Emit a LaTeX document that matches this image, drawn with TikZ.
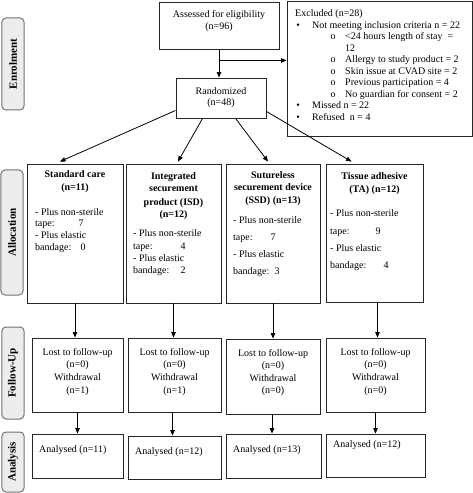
\documentclass[tikz,border=0pt]{standalone}
\usepackage{fontspec}
\setmainfont{Liberation Serif}
\usetikzlibrary{arrows.meta,calc}
\begin{document}
\begin{tikzpicture}[x=1bp,y=-1bp,
  box/.style={draw=black!85, line width=0.9bp, inner sep=0, fill=white},
  txt/.style={inner sep=0, font=\fontsize{10bp}{12bp}\selectfont},
  bt/.style={inner sep=0, font=\fontsize{10bp}{12bp}\selectfont\bfseries},
  side/.style={draw=black!55, fill=black!7, rounded corners=4bp, line width=1bp, inner sep=0},
  sidetxt/.style={inner sep=0, rotate=90, font=\fontsize{11bp}{13bp}\selectfont\bfseries},
  arr/.style={-{Triangle[length=5.5bp,width=4.5bp]}, line width=0.8bp, draw=black}]
\useasboundingbox (0,0) rectangle (473,493);

% side labels
\node[side, minimum width=22bp, minimum height=92bp] (senr) at (13,64) {};
\node[sidetxt] (senrt) at (senr.center) {Enrolment};
\node[side, minimum width=22bp, minimum height=125bp] (sall) at (12,232.5) {};
\node[sidetxt] (sallt) at (sall.center) {Allocation};
\node[side, minimum width=22bp, minimum height=92bp] (sfol) at (13,373) {};
\node[sidetxt] (sfolt) at (sfol.center) {Follow-Up};
\node[side, minimum width=22bp, minimum height=60bp] (sana) at (13,462) {};
\node[sidetxt] (sanat) at (sana.center) {Analysis};

% enrolment
\node[box, minimum width=120bp, minimum height=47bp] (assess) at (219,25.5) {};
\node[txt, anchor=base] (assess1) at (219,18) {Assessed for eligibility};
\node[txt, anchor=base] (assess2) at (219,30) {(n=96)};

\node[box, minimum width=185bp, minimum height=135bp] (excl) at (379.5,68.5) {};
\node[txt, anchor=base west] (ex0) at (295,17) {Excluded (n=28)};
\node[txt, anchor=base] (exb1) at (298,28.5) {•};
\node[txt, anchor=base west] (ex1) at (312,28.5) {Not meeting inclusion criteria n = 22};
\node[txt, anchor=base] (exo1) at (333,40) {o};
\node[txt, anchor=base west] (ex2) at (345,40) {<24 hours length of stay \ =};
\node[txt, anchor=base west] (ex3) at (345,51.5) {12};
\node[txt, anchor=base] (exo2) at (333,63) {o};
\node[txt, anchor=base west] (ex4) at (345,63) {Allergy to study product = 2};
\node[txt, anchor=base] (exo3) at (333,74.5) {o};
\node[txt, anchor=base west] (ex5) at (345,74.5) {Skin issue at CVAD site = 2};
\node[txt, anchor=base] (exo4) at (333,86) {o};
\node[txt, anchor=base west] (ex6) at (345,86) {Previous participation = 4};
\node[txt, anchor=base] (exo5) at (333,97.5) {o};
\node[txt, anchor=base west] (ex7) at (345,97.5) {No guardian for consent = 2};
\node[txt, anchor=base] (exb2) at (298,109) {•};
\node[txt, anchor=base west] (ex8) at (312,109) {Missed n = 22};
\node[txt, anchor=base] (exb3) at (298,120.5) {•};
\node[txt, anchor=base west] (ex9) at (312,120.5) {Refused \ n = 4};

\node[box, minimum width=90bp, minimum height=40bp] (rand) at (221,98) {};
\node[txt, anchor=base] (rand1) at (221,95) {Randomized};
\node[txt, anchor=base] (rand2) at (221,106) {(n=48)};

% allocation
\node[box, minimum width=96bp, minimum height=139bp] (al1) at (75,233.5) {};
\node[bt, anchor=base] (al1a) at (75,178) {Standard care};
\node[bt, anchor=base] (al1b) at (75,191) {(n=11)};
\node[txt, anchor=base west] (al1c) at (35,215) {- Plus non-sterile};
\node[txt, anchor=base west] (al1d) at (35,226) {\makebox[43.5bp][l]{tape:}7};
\node[txt, anchor=base west] (al1e) at (35,238) {- Plus elastic};
\node[txt, anchor=base west] (al1f) at (35,250) {\makebox[45.5bp][l]{bandage:}0};

\node[box, minimum width=95bp, minimum height=139bp] (al2) at (173.5,233.5) {};
\node[bt, anchor=base] (al2a) at (173.5,180) {Integrated};
\node[bt, anchor=base] (al2b) at (173.5,192) {securement};
\node[bt, anchor=base] (al2c) at (173.5,205) {product (ISD)};
\node[bt, anchor=base] (al2d) at (173.5,217) {(n=12)};
\node[txt, anchor=base west] (al2e) at (133,236) {- Plus non-sterile};
\node[txt, anchor=base west] (al2f) at (133,249) {\makebox[47.5bp][l]{tape:}4};
\node[txt, anchor=base west] (al2g) at (133,261) {- Plus elastic};
\node[txt, anchor=base west] (al2h) at (133,273) {\makebox[47.5bp][l]{bandage:}2};

\node[box, minimum width=94bp, minimum height=139bp] (al3) at (273,233.5) {};
\node[bt, anchor=base] (al3a) at (273,179) {Sutureless};
\node[bt, anchor=base] (al3b) at (273,191) {securement device};
\node[bt, anchor=base] (al3c) at (273,203) {(SSD) (n=13)};
\node[txt, anchor=base west] (al3d) at (233,223) {- Plus non-sterile};
\node[txt, anchor=base west] (al3e) at (233,240) {\makebox[37.5bp][l]{tape:}7};
\node[txt, anchor=base west] (al3f) at (233,257) {- Plus elastic};
\node[txt, anchor=base west] (al3g) at (233,274) {\makebox[41.5bp][l]{bandage:}3};

\node[box, minimum width=97bp, minimum height=138bp] (al4) at (374.5,233) {};
\node[bt, anchor=base] (al4a) at (374.5,180) {Tissue adhesive};
\node[bt, anchor=base] (al4b) at (374.5,193) {(TA) (n=12)};
\node[txt, anchor=base west] (al4c) at (330,216) {- Plus non-sterile};
\node[txt, anchor=base west] (al4d) at (330,234) {\makebox[45.5bp][l]{tape:}9};
\node[txt, anchor=base west] (al4e) at (330,251) {- Plus elastic};
\node[txt, anchor=base west] (al4f) at (330,268) {\makebox[53.5bp][l]{bandage:}4};

% follow-up
\node[box, minimum width=91bp, minimum height=74bp] (fu1) at (77.5,375) {};
\node[box, minimum width=93bp, minimum height=74bp] (fu2) at (174.5,375) {};
\node[box, minimum width=94bp, minimum height=75bp] (fu3) at (273,376.5) {};
\node[box, minimum width=99bp, minimum height=74bp] (fu4) at (375.5,375) {};
\node[txt, anchor=base] (fu1a) at (77.5,355) {Lost to follow-up};
\node[txt, anchor=base] (fu1b) at (77.5,367) {(n=0)};
\node[txt, anchor=base] (fu1c) at (77.5,380) {Withdrawal};
\node[txt, anchor=base] (fu1d) at (77.5,393) {(n=1)};
\node[txt, anchor=base] (fu2a) at (174.5,355) {Lost to follow-up};
\node[txt, anchor=base] (fu2b) at (174.5,367) {(n=0)};
\node[txt, anchor=base] (fu2c) at (174.5,380) {Withdrawal};
\node[txt, anchor=base] (fu2d) at (174.5,393) {(n=1)};
\node[txt, anchor=base] (fu3a) at (273,356) {Lost to follow-up};
\node[txt, anchor=base] (fu3b) at (273,368) {(n=0)};
\node[txt, anchor=base] (fu3c) at (273,381) {Withdrawal};
\node[txt, anchor=base] (fu3d) at (273,393) {(n=0)};
\node[txt, anchor=base] (fu4a) at (375.5,355) {Lost to follow-up};
\node[txt, anchor=base] (fu4b) at (375.5,367) {(n=0)};
\node[txt, anchor=base] (fu4c) at (375.5,380) {Withdrawal};
\node[txt, anchor=base] (fu4d) at (375.5,393) {(n=0)};

% analysis
\node[box, minimum width=91bp, minimum height=44bp] (an1) at (77.5,456) {};
\node[box, minimum width=93bp, minimum height=43bp] (an2) at (174.5,457.5) {};
\node[box, minimum width=95bp, minimum height=44bp] (an3) at (273.5,456) {};
\node[box, minimum width=99bp, minimum height=43bp] (an4) at (375.5,455.5) {};
\node[txt, anchor=base west] (an1a) at (39,452) {Analysed (n=11)};
\node[txt, anchor=base west] (an2a) at (135,454) {Analysed (n=12)};
\node[txt, anchor=base west] (an3a) at (233,452) {Analysed (n=13)};
\node[txt, anchor=base west] (an4a) at (333,447) {Analysed (n=12)};

% connectors
\draw[arr] (assess.south) -- (assess.south |- rand.north);
\coordinate (jx) at ($(assess.south)+(0,11)$);
\draw[arr] (jx) -- (jx -| excl.west);

\coordinate (r1) at ($(rand.south west)+(0,-8)$);
\coordinate (r2) at ($(rand.south west)+(27,0)$);
\coordinate (r3) at ($(rand.south west)+(60,0)$);
\coordinate (r4) at ($(rand.south east)+(0,-7)$);
\coordinate (e1) at ($(al1.north)+(-15,-2)$);
\coordinate (e2) at ($(al2.north)+(4.5,-2)$);
\coordinate (e3) at ($(al3.north)+(-5,-2)$);
\coordinate (e4) at ($(al4.north west)+(26,-2)$);
\draw[arr] (r1) -- (e1);
\draw[arr] (r2) -- (e2);
\draw[arr] (r3) -- (e3);
\draw[arr] (r4) -- (e4);

\coordinate (s1) at (al1.south);
\coordinate (s2) at (al2.south);
\coordinate (s3) at (al3.south);
\coordinate (s4) at ($(al4.south)+(3,0)$);
\draw[arr] (s1) -- (s1 |- fu1.north);
\draw[arr] (s2) -- (s2 |- fu2.north);
\draw[arr] (s3) -- (s3 |- fu3.north);
\draw[arr] (s4) -- (s4 |- fu4.north);

\coordinate (t1) at (fu1.south);
\coordinate (t2) at ($(fu2.south)+(-2,0)$);
\coordinate (t3) at ($(fu3.south)+(-1,0)$);
\coordinate (t4) at (fu4.south);
\draw[arr] (t1) -- (t1 |- an1.north);
\draw[arr] (t2) -- (t2 |- an2.north);
\draw[arr] (t3) -- (t3 |- an3.north);
\draw[arr] (t4) -- (t4 |- an4.north);
\end{tikzpicture}
\end{document}
